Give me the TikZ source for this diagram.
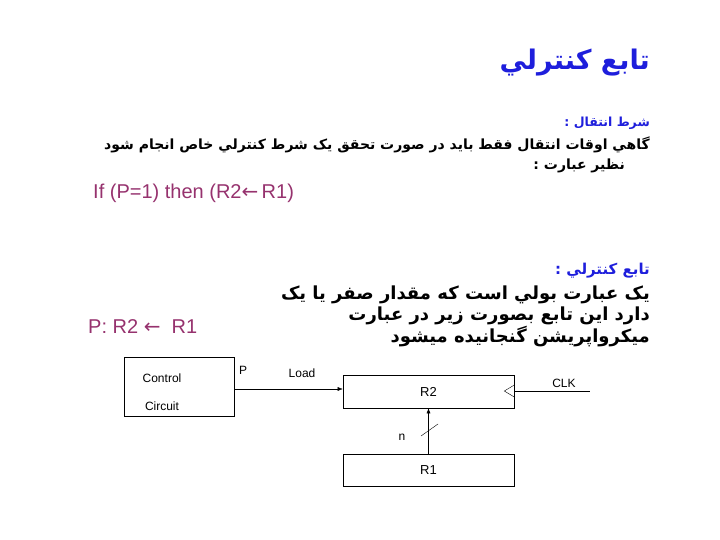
\documentclass[tikz,border=0pt]{standalone}
\usepackage{fontspec}
\setmainfont{Liberation Sans}
\newfontfamily\arabicfont[Script=Arabic]{DejaVu Sans}
\TeXXeTstate=1
\usetikzlibrary{arrows.meta}
\definecolor{tblue}{RGB}{30,30,220}
\definecolor{tpurp}{RGB}{150,50,110}
\tikzset{x=1pt,y=-1pt,
 ar/.style={font=\arabicfont\bfseries, inner sep=0pt},
 box/.style={draw, line width=0.6pt, inner sep=0pt},
 lbl/.style={font=\fontsize{12}{14}\selectfont, inner sep=0pt}}
\begin{document}
\begin{tikzpicture}
\useasboundingbox (0,0) rectangle (720,540);
\node[ar, anchor=east, text=tblue, font=\arabicfont\bfseries\fontsize{27}{30}\selectfont] (title) at (650,63) {\beginR تابع کنترلي\endR};
\node[ar, anchor=east, text=tblue, font=\arabicfont\bfseries\fontsize{12.5}{14}\selectfont] (h1) at (650,123) {\beginR شرط انتقال :\endR};
\node[ar, anchor=east, font=\arabicfont\bfseries\fontsize{14}{16}\selectfont] (t1) at (650,145) {\beginR گاهي اوقات انتقال فقط بايد در صورت  تحقق يک شرط کنترلي خاص انجام شود\endR};
\node[ar, anchor=east, font=\arabicfont\bfseries\fontsize{14}{16}\selectfont] (t2) at (625,166) {\beginR نظير عبارت :\endR};
\node[anchor=west, text=tpurp, font=\fontsize{20}{23}\selectfont, inner sep=0pt] (ifl) at (93,193) {If (P=1) then (R2{\arabicfont ←}\,R1)};
\node[ar, anchor=east, text=tblue, font=\arabicfont\bfseries\fontsize{15}{17}\selectfont] (h2) at (650,271) {\beginR تابع کنترلي :\endR};
\node[ar, anchor=east, font=\arabicfont\bfseries\fontsize{18}{20}\selectfont] (t3) at (650,295) {\beginR يک عبارت بولي است که مقدار صفر يا يک\endR};
\node[ar, anchor=east, font=\arabicfont\bfseries\fontsize{18}{20}\selectfont] (t4) at (650,316) {\beginR دارد اين تابع بصورت زير در عبارت\endR};
\node[ar, anchor=east, font=\arabicfont\bfseries\fontsize{18}{20}\selectfont] (t5) at (650,337) {\beginR ميکرواپريشن گنجانيده ميشود\endR};
\node[anchor=west, text=tpurp, font=\fontsize{20}{23}\selectfont, inner sep=0pt] (pl) at (88,327) {P: R2 {\arabicfont ←}\ \ R1};
% boxes
\node[box, minimum width=110, minimum height=59] (cc) at (179,386.5) {};
\node[lbl] (c1) at (162,378) {Control};
\node[lbl] (c2) at (162,406) {Circuit};
\node[box, minimum width=171, minimum height=33] (r2) at (428.5,391.5) {};
\node[lbl, font=\fontsize{13}{15}\selectfont] (r2t) at (428.5,392) {R2};
\node[box, minimum width=171, minimum height=32] (r1) at (428.5,470) {};
\node[lbl, font=\fontsize{13}{15}\selectfont] (r1t) at (428.5,470) {R1};
\node[lbl] (p) at (243,370) {P};
\node[lbl] (load) at (302,373) {Load};
\node[lbl] (clk) at (564,383) {CLK};
\node[lbl] (n) at (402,437) {n};
\coordinate (clkend) at (590,391);
\draw[-{Latex[length=5pt,width=4pt]}] (cc.east |- 0,389) -- (r2.west |- 0,389);
\draw (r2.east |- 0,391) -- (clkend);
\draw (r2.east |- 0,385) -- ++(-10,6) -- ++(10,6);
\draw[-{Latex[length=5pt,width=4pt]}] (r1.north) -- (r2.south);
\draw (421,436) -- (438,424);
\end{tikzpicture}
\end{document}
